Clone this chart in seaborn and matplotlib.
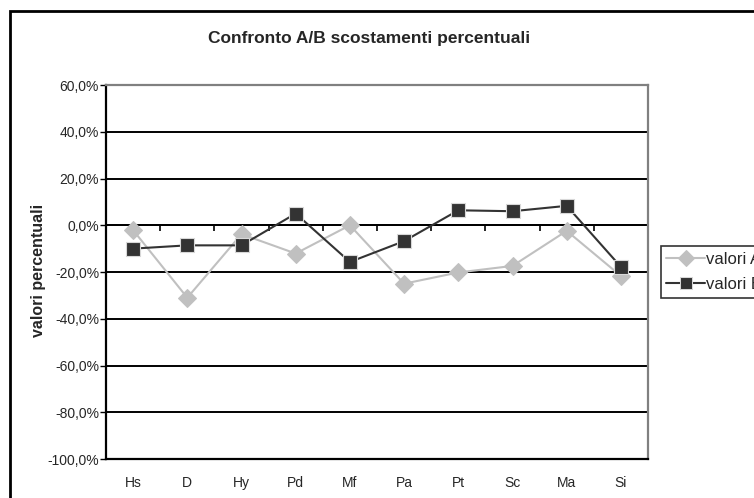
import matplotlib
matplotlib.use("Agg")
import matplotlib.pyplot as plt
from matplotlib.patches import Rectangle
from matplotlib.ticker import FuncFormatter
import seaborn as sns
import pandas as pd

categories = ["Hs", "D", "Hy", "Pd", "Mf", "Pa", "Pt", "Sc", "Ma", "Si"]
valori_a = [-2.1, -31.0, -3.8, -12.1, 0.0, -25.0, -20.2, -17.4, -2.4, -21.7]
valori_b = [-10.0, -8.6, -8.6, 5.0, -15.7, -6.8, 6.4, 6.0, 8.3, -17.8]
series_names = ["valori A", "valori B"]
y_ticks = [60, 40, 20, 0, -20, -40, -60, -80, -100]
title = "Confronto A/B scostamenti percentuali"
y_label = "valori percentuali"

df = pd.DataFrame({
    "pos": list(range(len(categories))) * 2,
    "val": valori_a + valori_b,
    "serie": [series_names[0]] * len(categories) + [series_names[1]] * len(categories),
})

sns.set_theme(style="white")
plt.rcParams["font.family"] = ["Liberation Sans", "DejaVu Sans"]

W, H = 754, 498
fig = plt.figure(figsize=(W / 100, H / 100), dpi=100)
ax = fig.add_axes([106 / W, 1 - 459 / H, (648 - 106) / W, (459 - 85) / H])

# gridlines
for t in y_ticks[1:-1]:
    ax.axhline(t, color="black", lw=1.4, zorder=1)

palette = {series_names[0]: "#c0c0c0", series_names[1]: "#333333"}
sns.lineplot(data=df, x="pos", y="val", hue="serie", style="serie",
             markers={series_names[0]: "D", series_names[1]: "s"},
             dashes=False, palette=palette, ax=ax, lw=1.5, sort=False,
             legend=True, zorder=3)

for line, name in zip([l for l in ax.get_lines() if len(l.get_xdata()) == len(categories)], series_names):
    if name == series_names[0]:
        line.set_markersize(9)
        line.set_markerfacecolor("#c0c0c0")
        line.set_markeredgecolor("#c0c0c0")
    else:
        line.set_markersize(10)
        line.set_markerfacecolor("#333333")
        line.set_markeredgecolor("#d8d8d8")
        line.set_markeredgewidth(0.8)

ax.set_xlim(-0.5, len(categories) - 0.5)
ax.set_ylim(-100, 60)
ax.set_yticks(y_ticks)
ax.yaxis.set_major_formatter(FuncFormatter(lambda v, p: f"{v:.1f}%".replace(".", ",")))
ax.set_xticks(range(len(categories)))
ax.set_xticklabels(categories)
ax.tick_params(axis="x", length=0, pad=12, labelsize=10)
ax.tick_params(axis="y", length=4, width=1, color="black", direction="out",
               left=True, pad=1, labelsize=10)
ax.set_xlabel("")
ax.set_ylabel(y_label, fontsize=11.5, fontweight="bold")
ax.yaxis.set_label_coords((46 - 106) / (648 - 106), (459 - 270) / (459 - 85))

for side in ["left", "bottom"]:
    ax.spines[side].set_color("black")
    ax.spines[side].set_linewidth(1.6)
for side in ["top", "right"]:
    ax.spines[side].set_color("#808080")
    ax.spines[side].set_linewidth(1.6)

# category axis crossing at 0 with tick marks between categories
sec = ax.secondary_xaxis((0 - (-100)) / 160)
sec.set_xticks([i + 0.5 for i in range(-1, len(categories))])
sec.tick_params(axis="x", direction="out", length=4, width=1.2, color="black",
                labelbottom=False, labeltop=False, bottom=True, top=False)
sec.spines["bottom"].set_color("black")
sec.spines["bottom"].set_linewidth(1.4)

fig.text(369 / W, 1 - 38 / H, title, ha="center", va="center",
         fontsize=12.5, fontweight="bold")

leg = ax.legend(loc="upper left", bbox_to_anchor=(660.5 / W, 1 - 246 / H),
                bbox_transform=fig.transFigure, frameon=True, fancybox=False,
                fontsize=12, handlelength=2.3, handletextpad=0.05,
                borderpad=0.35, labelspacing=0.6, borderaxespad=0, title=None)
leg.get_frame().set_edgecolor("black")
leg.get_frame().set_linewidth(1.2)
for h, name in zip(leg.legend_handles, series_names):
    if name == series_names[0]:
        h.set_markersize(8)
        h.set_markerfacecolor("#c0c0c0")
        h.set_markeredgecolor("#c0c0c0")
    else:
        h.set_markersize(8)
        h.set_markerfacecolor("#333333")
        h.set_markeredgecolor("#d8d8d8")

# outer chart frame
fig.patches.append(Rectangle((10 / W, -0.2), 1.2, 1.2 - 11 / H,
                             transform=fig.transFigure, fill=False,
                             edgecolor="black", lw=2))

fig.savefig("out.png", dpi=100)
